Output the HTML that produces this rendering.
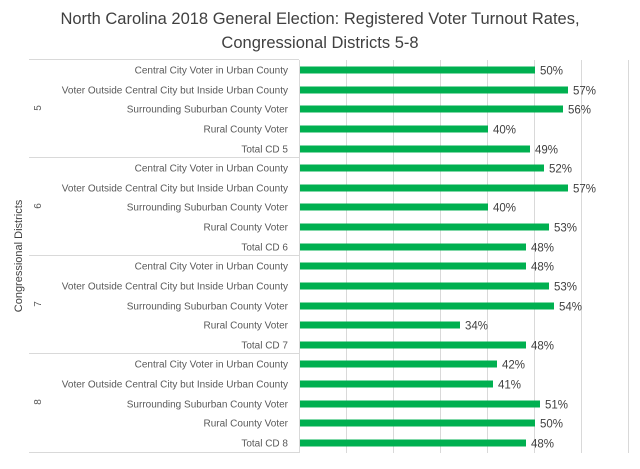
<!DOCTYPE html>
<html><head><style>
body{margin:0;background:#fff;}
svg text{font-family:"Liberation Sans",sans-serif;}
.l{font-size:10px;fill:#595959;text-anchor:end;}
.v{font-size:11.5px;fill:#404040;}
</style></head><body>
<svg width="640" height="464" xmlns="http://www.w3.org/2000/svg">
<rect width="640" height="464" fill="#fff"/>
<text x="320" y="24" font-size="16.5" fill="#404040" text-anchor="middle">North Carolina 2018 General Election: Registered Voter Turnout Rates,</text>
<text x="320" y="48" font-size="16.5" fill="#404040" text-anchor="middle">Congressional Districts 5-8</text>
<g stroke="#d9d9d9" stroke-width="1">
<line x1="346.5" y1="60" x2="346.5" y2="453"/>
<line x1="393.5" y1="60" x2="393.5" y2="453"/>
<line x1="440.5" y1="60" x2="440.5" y2="453"/>
<line x1="487.5" y1="60" x2="487.5" y2="453"/>
<line x1="534.5" y1="60" x2="534.5" y2="453"/>
<line x1="581.5" y1="60" x2="581.5" y2="453"/>
<line x1="628.5" y1="60" x2="628.5" y2="453"/>
<line x1="299.5" y1="60" x2="299.5" y2="453"/>
<line x1="29" y1="59.5" x2="299" y2="59.5"/>
<line x1="29" y1="157.5" x2="299" y2="157.5"/>
<line x1="29" y1="255.5" x2="299" y2="255.5"/>
<line x1="29" y1="353.5" x2="299" y2="353.5"/>
<line x1="29" y1="452.5" x2="299" y2="452.5"/>
</g>
<text transform="translate(22,256) rotate(-90)" font-size="11" fill="#404040" text-anchor="middle">Congressional Districts</text>
<g font-size="10" fill="#595959" text-anchor="middle">
<text transform="translate(41,108) rotate(-90)">5</text>
<text transform="translate(41,206) rotate(-90)">6</text>
<text transform="translate(41,304) rotate(-90)">7</text>
<text transform="translate(41,402) rotate(-90)">8</text>
</g>
<g fill="#00b050">
<rect x="300" y="66.5" width="235" height="7"/>
<rect x="300" y="86.5" width="268" height="7"/>
<rect x="300" y="105.5" width="263" height="7"/>
<rect x="300" y="125.5" width="188" height="7"/>
<rect x="300" y="145.5" width="230" height="7"/>
<rect x="300" y="164.5" width="244" height="7"/>
<rect x="300" y="184.5" width="268" height="7"/>
<rect x="300" y="203.5" width="188" height="7"/>
<rect x="300" y="223.5" width="249" height="7"/>
<rect x="300" y="243.5" width="226" height="7"/>
<rect x="300" y="262.5" width="226" height="7"/>
<rect x="300" y="282.5" width="249" height="7"/>
<rect x="300" y="302.5" width="254" height="7"/>
<rect x="300" y="321.5" width="160" height="7"/>
<rect x="300" y="341.5" width="226" height="7"/>
<rect x="300" y="360.5" width="197" height="7"/>
<rect x="300" y="380.5" width="193" height="7"/>
<rect x="300" y="400.5" width="240" height="7"/>
<rect x="300" y="419.5" width="235" height="7"/>
<rect x="300" y="439.5" width="226" height="7"/>
</g>
<text class="l" x="288" y="73.5">Central City Voter in Urban County</text>
<text class="l" x="288" y="93.5">Voter Outside Central City but Inside Urban County</text>
<text class="l" x="288" y="112.5">Surrounding Suburban County Voter</text>
<text class="l" x="288" y="132.5">Rural County Voter</text>
<text class="l" x="288" y="152.5">Total CD 5</text>
<text class="l" x="288" y="171.5">Central City Voter in Urban County</text>
<text class="l" x="288" y="191.5">Voter Outside Central City but Inside Urban County</text>
<text class="l" x="288" y="210.5">Surrounding Suburban County Voter</text>
<text class="l" x="288" y="230.5">Rural County Voter</text>
<text class="l" x="288" y="250.5">Total CD 6</text>
<text class="l" x="288" y="269.5">Central City Voter in Urban County</text>
<text class="l" x="288" y="289.5">Voter Outside Central City but Inside Urban County</text>
<text class="l" x="288" y="309.5">Surrounding Suburban County Voter</text>
<text class="l" x="288" y="328.5">Rural County Voter</text>
<text class="l" x="288" y="348.5">Total CD 7</text>
<text class="l" x="288" y="367.5">Central City Voter in Urban County</text>
<text class="l" x="288" y="387.5">Voter Outside Central City but Inside Urban County</text>
<text class="l" x="288" y="407.5">Surrounding Suburban County Voter</text>
<text class="l" x="288" y="426.5">Rural County Voter</text>
<text class="l" x="288" y="446.5">Total CD 8</text>
<text class="v" x="540" y="74.5">50%</text>
<text class="v" x="573" y="94.5">57%</text>
<text class="v" x="568" y="113.5">56%</text>
<text class="v" x="493" y="133.5">40%</text>
<text class="v" x="535" y="153.5">49%</text>
<text class="v" x="549" y="172.5">52%</text>
<text class="v" x="573" y="192.5">57%</text>
<text class="v" x="493" y="211.5">40%</text>
<text class="v" x="554" y="231.5">53%</text>
<text class="v" x="531" y="251.5">48%</text>
<text class="v" x="531" y="270.5">48%</text>
<text class="v" x="554" y="290.5">53%</text>
<text class="v" x="559" y="310.5">54%</text>
<text class="v" x="465" y="329.5">34%</text>
<text class="v" x="531" y="349.5">48%</text>
<text class="v" x="502" y="368.5">42%</text>
<text class="v" x="498" y="388.5">41%</text>
<text class="v" x="545" y="408.5">51%</text>
<text class="v" x="540" y="427.5">50%</text>
<text class="v" x="531" y="447.5">48%</text>
</svg>
</body></html>
